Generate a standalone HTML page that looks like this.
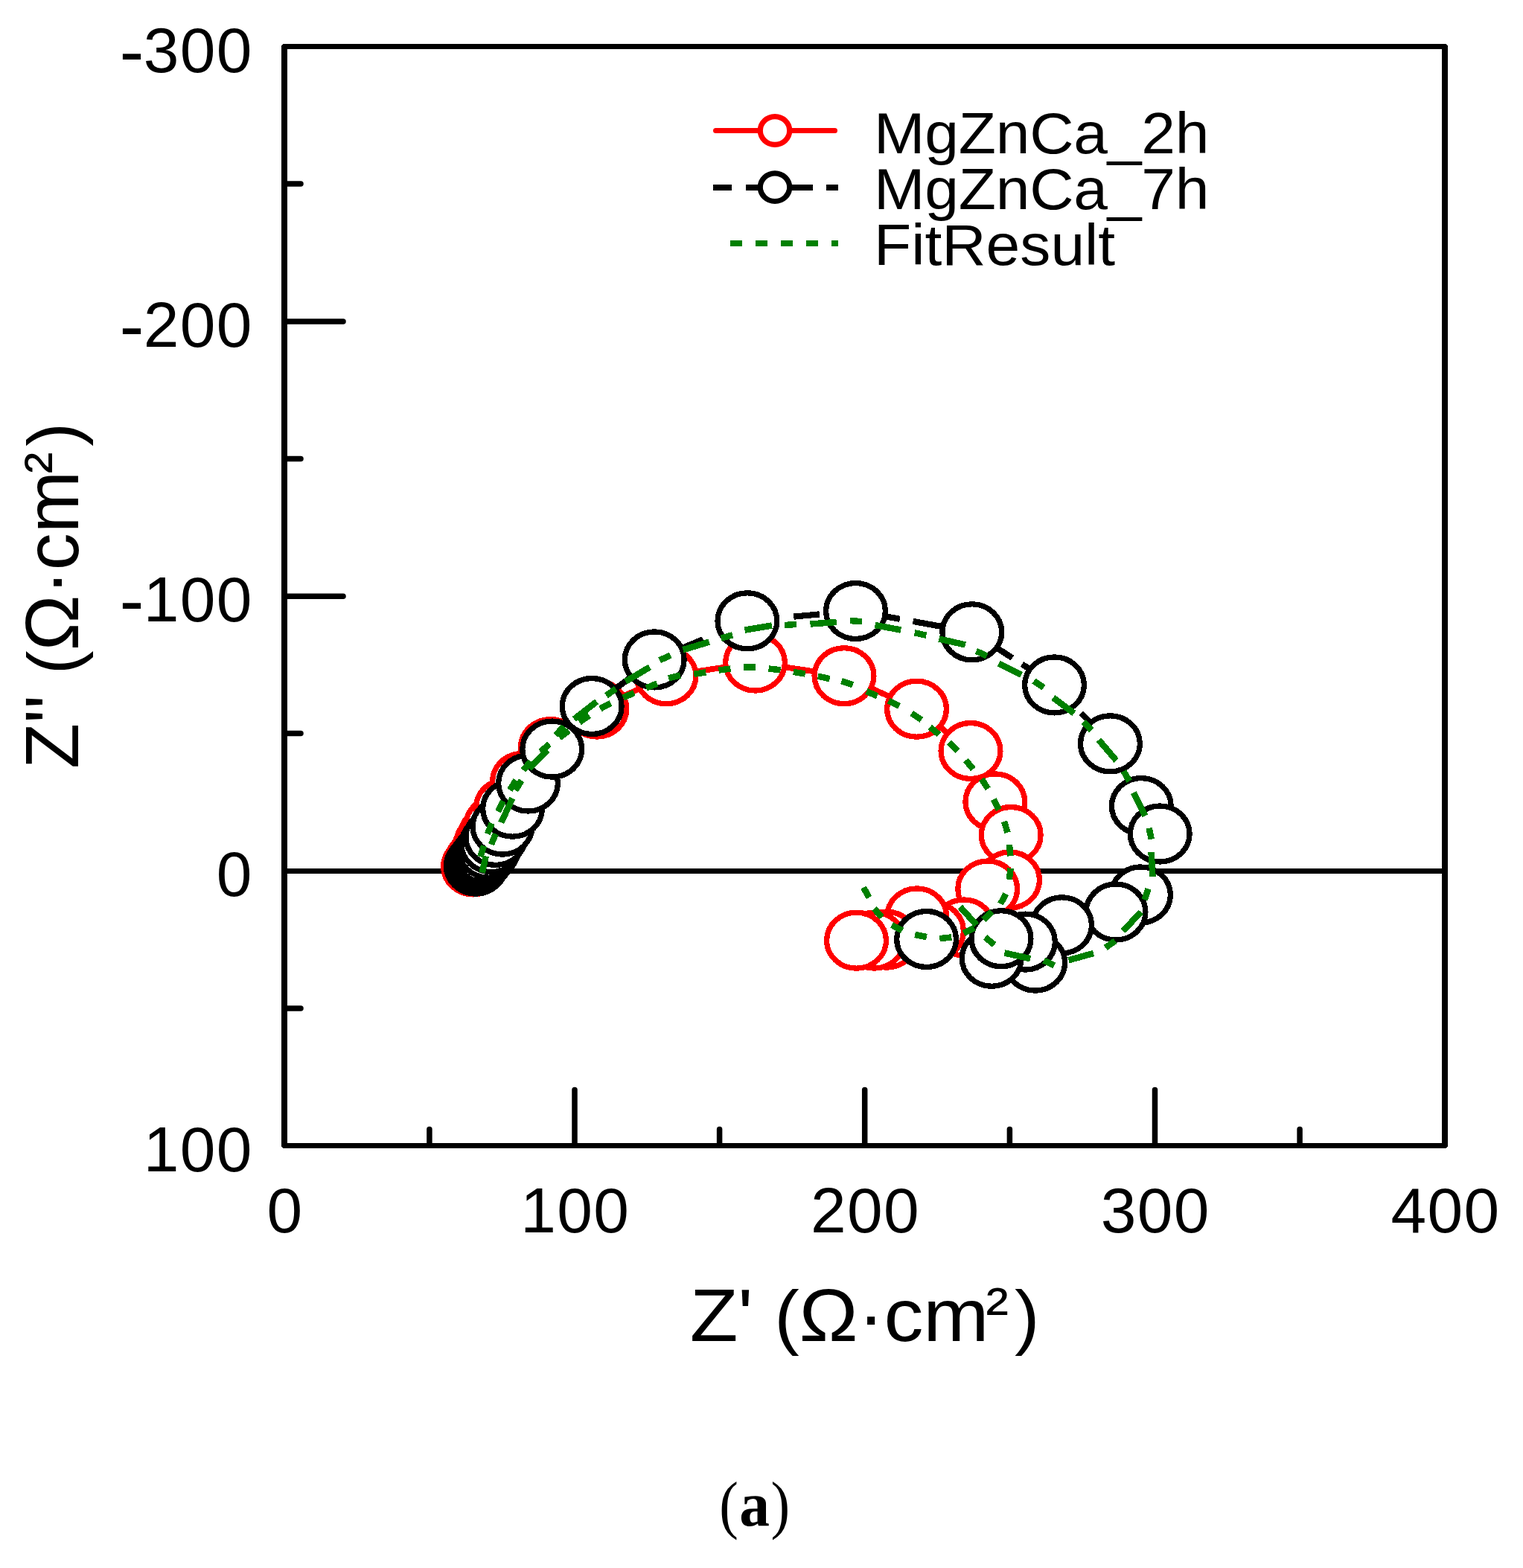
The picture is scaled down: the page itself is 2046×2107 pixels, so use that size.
<!DOCTYPE html>
<html lang="en"><head><meta charset="utf-8"><title>(a)</title>
<style>
html,body{margin:0;padding:0;background:#fff;}
body{width:2046px;height:2107px;overflow:hidden;}
svg{display:block;}
text{font-family:"Liberation Sans",sans-serif;fill:#000;stroke:#000;stroke-width:0;stroke-linejoin:round;}
.cap{font-family:"Liberation Serif",serif;stroke:none;}
</style></head><body>
<svg width="2046" height="2107" viewBox="0 0 2046 2107">
<rect x="0" y="0" width="2046" height="2107" fill="#fff"/>
<g id="axes" fill="#000" shape-rendering="crispEdges">
<rect x="382" y="1167" width="1559" height="7"/>
</g>
<g id="plot" shape-rendering="crispEdges">
<g id="series-2h" fill="none" stroke="#ff0000">
<path d="M635.5 1164.4L636.4 1163.0L637.6 1161.2L639.1 1158.9L641.0 1156.0L643.5 1152.3L646.8 1147.5L650.0 1140.5L653.0 1132.5L658.0 1123.0L666.0 1108.5L679.5 1085.0L701.5 1050.0L739.4 1004.1L801.9 952.5L895.0 908.3L1014.5 890.5L1134.0 908.2L1231.5 952.7L1304.0 1009.0L1336.8 1077.4L1358.2 1122.0L1356.6 1182.5L1326.7 1194.5L1295.0 1246.5L1254.5 1251.0L1231.7 1231.4L1191.0 1262.6L1174.5 1263.6L1150.5 1263.7" stroke-width="7.8" stroke-linejoin="round"/>
<ellipse cx="635.5" cy="1164.4" rx="39.9" ry="37.5" fill="#fff" stroke-width="7.3"/>
<ellipse cx="636.4" cy="1163.0" rx="39.9" ry="37.5" fill="#fff" stroke-width="7.3"/>
<ellipse cx="637.6" cy="1161.2" rx="39.9" ry="37.5" fill="#fff" stroke-width="7.3"/>
<ellipse cx="639.1" cy="1158.9" rx="39.9" ry="37.5" fill="#fff" stroke-width="7.3"/>
<ellipse cx="641.0" cy="1156.0" rx="39.9" ry="37.5" fill="#fff" stroke-width="7.3"/>
<ellipse cx="643.5" cy="1152.3" rx="39.9" ry="37.5" fill="#fff" stroke-width="7.3"/>
<ellipse cx="646.8" cy="1147.5" rx="39.9" ry="37.5" fill="#fff" stroke-width="7.3"/>
<ellipse cx="650.0" cy="1140.5" rx="39.9" ry="37.5" fill="#fff" stroke-width="7.3"/>
<ellipse cx="653.0" cy="1132.5" rx="39.9" ry="37.5" fill="#fff" stroke-width="7.3"/>
<ellipse cx="658.0" cy="1123.0" rx="39.9" ry="37.5" fill="#fff" stroke-width="7.3"/>
<ellipse cx="666.0" cy="1108.5" rx="39.9" ry="37.5" fill="#fff" stroke-width="7.3"/>
<ellipse cx="679.5" cy="1085.0" rx="39.9" ry="37.5" fill="#fff" stroke-width="7.3"/>
<ellipse cx="701.5" cy="1050.0" rx="39.9" ry="37.5" fill="#fff" stroke-width="7.3"/>
<ellipse cx="739.4" cy="1004.1" rx="39.9" ry="37.5" fill="#fff" stroke-width="7.3"/>
<ellipse cx="801.9" cy="952.5" rx="39.9" ry="37.5" fill="#fff" stroke-width="7.3"/>
<ellipse cx="895.0" cy="908.3" rx="39.9" ry="37.5" fill="#fff" stroke-width="7.3"/>
<ellipse cx="1014.5" cy="890.5" rx="39.9" ry="37.5" fill="#fff" stroke-width="7.3"/>
<ellipse cx="1134.0" cy="908.2" rx="39.9" ry="37.5" fill="#fff" stroke-width="7.3"/>
<ellipse cx="1231.5" cy="952.7" rx="39.9" ry="37.5" fill="#fff" stroke-width="7.3"/>
<ellipse cx="1304.0" cy="1009.0" rx="39.9" ry="37.5" fill="#fff" stroke-width="7.3"/>
<ellipse cx="1336.8" cy="1077.4" rx="39.9" ry="37.5" fill="#fff" stroke-width="7.3"/>
<ellipse cx="1358.2" cy="1122.0" rx="39.9" ry="37.5" fill="#fff" stroke-width="7.3"/>
<ellipse cx="1356.6" cy="1182.5" rx="39.9" ry="37.5" fill="#fff" stroke-width="7.3"/>
<ellipse cx="1326.7" cy="1194.5" rx="39.9" ry="37.5" fill="#fff" stroke-width="7.3"/>
<ellipse cx="1295.0" cy="1246.5" rx="39.9" ry="37.5" fill="#fff" stroke-width="7.3"/>
<ellipse cx="1254.5" cy="1251.0" rx="39.9" ry="37.5" fill="#fff" stroke-width="7.3"/>
<ellipse cx="1231.7" cy="1231.4" rx="39.9" ry="37.5" fill="#fff" stroke-width="7.3"/>
<ellipse cx="1191.0" cy="1262.6" rx="39.9" ry="37.5" fill="#fff" stroke-width="7.3"/>
<ellipse cx="1174.5" cy="1263.6" rx="39.9" ry="37.5" fill="#fff" stroke-width="7.3"/>
<ellipse cx="1150.5" cy="1263.7" rx="39.9" ry="37.5" fill="#fff" stroke-width="7.3"/>
</g>
<g id="series-7h" fill="none" stroke="#000">
<g stroke-width="8.2">
<line x1="815.0" y1="934.2" x2="850.0" y2="908.2"/>
<line x1="900.0" y1="877.7" x2="944.4" y2="859.2"/>
<line x1="1066.3" y1="828.6" x2="1100.8" y2="825.4"/>
<line x1="1175.0" y1="825.6" x2="1208.9" y2="831.8"/>
<line x1="1226.5" y1="834.9" x2="1275.0" y2="843.7"/>
<line x1="1330.0" y1="864.8" x2="1360.0" y2="884.1"/>
<line x1="1373.0" y1="892.5" x2="1400.0" y2="909.8"/>
<line x1="1452.3" y1="958.1" x2="1475.0" y2="982.0"/>
</g>
<ellipse cx="639.3" cy="1163.6" rx="39.9" ry="37.5" fill="#fff" stroke-width="7.3"/>
<ellipse cx="640.3" cy="1162.3" rx="39.9" ry="37.5" fill="#fff" stroke-width="7.3"/>
<ellipse cx="641.6" cy="1160.6" rx="39.9" ry="37.5" fill="#fff" stroke-width="7.3"/>
<ellipse cx="643.2" cy="1158.5" rx="39.9" ry="37.5" fill="#fff" stroke-width="7.3"/>
<ellipse cx="645.3" cy="1155.8" rx="39.9" ry="37.5" fill="#fff" stroke-width="7.3"/>
<ellipse cx="648.0" cy="1152.3" rx="39.9" ry="37.5" fill="#fff" stroke-width="7.3"/>
<ellipse cx="651.5" cy="1147.7" rx="39.9" ry="37.5" fill="#fff" stroke-width="7.3"/>
<ellipse cx="656.1" cy="1141.7" rx="39.9" ry="37.5" fill="#fff" stroke-width="7.3"/>
<ellipse cx="659.9" cy="1134.2" rx="39.9" ry="37.5" fill="#fff" stroke-width="7.3"/>
<ellipse cx="665.8" cy="1124.9" rx="39.9" ry="37.5" fill="#fff" stroke-width="7.3"/>
<ellipse cx="675.0" cy="1110.6" rx="39.9" ry="37.5" fill="#fff" stroke-width="7.3"/>
<ellipse cx="688.5" cy="1086.7" rx="39.9" ry="37.5" fill="#fff" stroke-width="7.3"/>
<ellipse cx="709.5" cy="1052.5" rx="39.9" ry="37.5" fill="#fff" stroke-width="7.3"/>
<ellipse cx="741.7" cy="1006.6" rx="39.9" ry="37.5" fill="#fff" stroke-width="7.3"/>
<ellipse cx="795.2" cy="949.0" rx="39.9" ry="37.5" fill="#fff" stroke-width="7.3"/>
<ellipse cx="879.2" cy="886.4" rx="39.9" ry="37.5" fill="#fff" stroke-width="7.3"/>
<ellipse cx="1003.9" cy="834.3" rx="39.9" ry="37.5" fill="#fff" stroke-width="7.3"/>
<ellipse cx="1149.5" cy="821.0" rx="39.9" ry="37.5" fill="#fff" stroke-width="7.3"/>
<ellipse cx="1305.8" cy="849.3" rx="39.9" ry="37.5" fill="#fff" stroke-width="7.3"/>
<ellipse cx="1416.5" cy="920.4" rx="39.9" ry="37.5" fill="#fff" stroke-width="7.3"/>
<ellipse cx="1491.4" cy="999.3" rx="39.9" ry="37.5" fill="#fff" stroke-width="7.3"/>
<ellipse cx="1533.3" cy="1083.1" rx="39.9" ry="37.5" fill="#fff" stroke-width="7.3"/>
<ellipse cx="1558.2" cy="1120.5" rx="39.9" ry="37.5" fill="#fff" stroke-width="7.3"/>
<ellipse cx="1532.5" cy="1202.5" rx="39.9" ry="37.5" fill="#fff" stroke-width="7.3"/>
<ellipse cx="1499.0" cy="1225.5" rx="39.9" ry="37.5" fill="#fff" stroke-width="7.3"/>
<ellipse cx="1426.6" cy="1243.3" rx="39.9" ry="37.5" fill="#fff" stroke-width="7.3"/>
<ellipse cx="1390.7" cy="1293.6" rx="39.9" ry="37.5" fill="#fff" stroke-width="7.3"/>
<ellipse cx="1377.4" cy="1265.6" rx="39.9" ry="37.5" fill="#fff" stroke-width="7.3"/>
<ellipse cx="1332.2" cy="1287.8" rx="39.9" ry="37.5" fill="#fff" stroke-width="7.3"/>
<ellipse cx="1345.0" cy="1261.2" rx="39.9" ry="37.5" fill="#fff" stroke-width="7.3"/>
<ellipse cx="1244.6" cy="1262.0" rx="39.9" ry="37.5" fill="#fff" stroke-width="7.3"/>
</g>
<g id="fit" fill="none" stroke="#008000" stroke-width="8.5">
<line x1="645.3" y1="1151.2" x2="650.1" y2="1136.6"/>
<line x1="654.9" y1="1120.5" x2="660.7" y2="1106.3"/>
<line x1="668.9" y1="1090.3" x2="676.1" y2="1076.7"/>
<line x1="684.8" y1="1061.5" x2="693.2" y2="1048.5"/>
<line x1="702.9" y1="1034.9" x2="713.1" y2="1023.1"/>
<line x1="726.0" y1="1010.1" x2="738.0" y2="999.9"/>
<line x1="751.5" y1="991.2" x2="764.3" y2="981.8"/>
<line x1="778.4" y1="970.5" x2="791.6" y2="961.5"/>
<line x1="806.4" y1="952.4" x2="820.4" y2="944.8"/>
<line x1="837.3" y1="937.4" x2="851.9" y2="931.0"/>
<line x1="868.1" y1="924.5" x2="882.9" y2="918.5"/>
<line x1="898.2" y1="911.4" x2="913.8" y2="907.4"/>
<line x1="932.2" y1="905.8" x2="948.2" y2="903.4"/>
<line x1="965.4" y1="900.6" x2="981.4" y2="898.6"/>
<line x1="998.9" y1="896.4" x2="1015.1" y2="896.4"/>
<line x1="1032.6" y1="898.5" x2="1048.6" y2="900.3"/>
<line x1="1065.8" y1="902.9" x2="1081.8" y2="905.5"/>
<line x1="1098.8" y1="908.7" x2="1114.6" y2="912.1"/>
<line x1="1130.4" y1="915.1" x2="1145.6" y2="920.3"/>
<line x1="1164.0" y1="928.9" x2="1178.6" y2="935.3"/>
<line x1="1193.9" y1="941.6" x2="1208.1" y2="948.8"/>
<line x1="1224.6" y1="958.4" x2="1237.8" y2="967.2"/>
<line x1="1249.3" y1="977.0" x2="1261.5" y2="987.0"/>
<line x1="1275.2" y1="997.7" x2="1286.4" y2="1008.7"/>
<line x1="1297.4" y1="1021.6" x2="1307.4" y2="1033.6"/>
<line x1="1318.7" y1="1046.9" x2="1327.3" y2="1059.9"/>
<line x1="1334.8" y1="1074.3" x2="1341.6" y2="1088.1"/>
<line x1="1349.1" y1="1103.9" x2="1353.5" y2="1118.7"/>
<line x1="1356.0" y1="1135.1" x2="1357.4" y2="1150.3"/>
<line x1="1357.7" y1="1166.7" x2="1355.7" y2="1181.9"/>
<line x1="1351.3" y1="1201.0" x2="1344.1" y2="1214.6"/>
<line x1="1332.8" y1="1225.2" x2="1321.2" y2="1235.8"/>
<line x1="1308.6" y1="1246.7" x2="1294.4" y2="1254.1"/>
<line x1="1278.3" y1="1259.4" x2="1262.3" y2="1261.2"/>
<line x1="1244.9" y1="1259.1" x2="1229.1" y2="1255.9"/>
<line x1="1212.0" y1="1250.5" x2="1198.0" y2="1242.9"/>
<line x1="1184.6" y1="1232.7" x2="1174.4" y2="1220.9"/>
<line x1="1167.6" y1="1206.0" x2="1160.0" y2="1192.6"/>
<line x1="647.7" y1="1172.7" x2="652.7" y2="1150.4"/>
<line x1="659.9" y1="1134.8" x2="665.9" y2="1120.6"/>
<line x1="673.3" y1="1105.4" x2="688.5" y2="1072.6"/>
<line x1="692.4" y1="1062.0" x2="700.6" y2="1048.8"/>
<line x1="711.0" y1="1033.0" x2="735.0" y2="1008.0"/>
<line x1="746.6" y1="987.7" x2="757.4" y2="976.3"/>
<line x1="771.3" y1="966.3" x2="801.6" y2="942.8"/>
<line x1="814.4" y1="934.6" x2="827.4" y2="925.6"/>
<line x1="840.3" y1="915.8" x2="872.8" y2="896.5"/>
<line x1="886.1" y1="887.4" x2="900.5" y2="880.4"/>
<line x1="917.5" y1="873.2" x2="952.8" y2="862.6"/>
<line x1="968.7" y1="857.7" x2="984.1" y2="853.3"/>
<line x1="1000.5" y1="846.6" x2="1036.9" y2="840.5"/>
<line x1="1054.0" y1="840.1" x2="1070.0" y2="838.9"/>
<line x1="1088.5" y1="838.5" x2="1123.7" y2="836.0"/>
<line x1="1142.0" y1="834.0" x2="1158.0" y2="835.2"/>
<line x1="1175.5" y1="840.0" x2="1210.2" y2="846.5"/>
<line x1="1228.6" y1="850.3" x2="1244.4" y2="853.7"/>
<line x1="1261.4" y1="858.5" x2="1296.9" y2="866.4"/>
<line x1="1311.4" y1="874.8" x2="1325.8" y2="881.6"/>
<line x1="1341.6" y1="891.4" x2="1372.0" y2="906.7"/>
<line x1="1388.9" y1="915.0" x2="1402.1" y2="924.0"/>
<line x1="1414.8" y1="937.5" x2="1442.9" y2="958.5"/>
<line x1="1455.4" y1="970.2" x2="1466.4" y2="981.4"/>
<line x1="1476.0" y1="994.2" x2="1499.6" y2="1021.9"/>
<line x1="1509.4" y1="1036.2" x2="1517.2" y2="1049.6"/>
<line x1="1522.7" y1="1065.0" x2="1538.5" y2="1096.5"/>
<line x1="1543.6" y1="1112.8" x2="1546.8" y2="1127.8"/>
<line x1="1546.5" y1="1144.8" x2="1548.5" y2="1178.0"/>
<line x1="1542.6" y1="1194.5" x2="1537.6" y2="1209.1"/>
<line x1="1532.6" y1="1225.5" x2="1508.9" y2="1251.0"/>
<line x1="1498.1" y1="1264.4" x2="1485.1" y2="1273.4"/>
<line x1="1469.0" y1="1281.0" x2="1435.5" y2="1290.3"/>
<line x1="1416.5" y1="1297.4" x2="1402.1" y2="1290.6"/>
<line x1="1384.2" y1="1288.2" x2="1349.5" y2="1280.5"/>
<line x1="1335.7" y1="1269.5" x2="1323.5" y2="1259.5"/>
<line x1="1311.9" y1="1243.0" x2="1289.9" y2="1218.7"/>
</g>
</g>
<g id="frame" fill="#000" shape-rendering="crispEdges">
<rect x="378" y="59" width="1567" height="7"/>
<rect x="378" y="1536" width="1567" height="7"/>
<rect x="378" y="59" width="8" height="1484"/>
<rect x="1937" y="59" width="8" height="1484"/>
<path d="M378 59h2.4l-2.4 2.4zM1945 59v2.4l-2.4-2.4zM378 1543v-2.4l2.4 2.4zM1945 1543h-2.4l2.4-2.4z" fill="#fff"/>
</g>
<g id="ticks" stroke="#000" stroke-width="7.5" stroke-linecap="round" fill="none">
<line x1="384" y1="432.1" x2="461" y2="432.1"/>
<line x1="384" y1="801.3" x2="461" y2="801.3"/>
<line x1="384" y1="247.1" x2="404" y2="247.1"/>
<line x1="384" y1="616.4" x2="404" y2="616.4"/>
<line x1="384" y1="985.6" x2="404" y2="985.6"/>
<line x1="384" y1="1354.9" x2="404" y2="1354.9"/>
<line x1="772.0" y1="1539" x2="772.0" y2="1464.5"/>
<line x1="1161.7" y1="1539" x2="1161.7" y2="1464.5"/>
<line x1="1551.5" y1="1539" x2="1551.5" y2="1464.5"/>
<line x1="576.9" y1="1539" x2="576.9" y2="1517.5"/>
<line x1="966.6" y1="1539" x2="966.6" y2="1517.5"/>
<line x1="1356.4" y1="1539" x2="1356.4" y2="1517.5"/>
<line x1="1746.1" y1="1539" x2="1746.1" y2="1517.5"/>
</g>
<g id="ylabels" font-size="85.7" text-anchor="end" letter-spacing="1.30" stroke-width="0.40">
<text x="339.6" y="96.8"><tspan font-size="99.0" dy="4.8" dx="0.0">-</tspan><tspan dy="-4.8" dx="-2.0">300</tspan></text>
<text x="339.6" y="465.9"><tspan font-size="99.0" dy="4.8" dx="0.0">-</tspan><tspan dy="-4.8" dx="-2.0">200</tspan></text>
<text x="339.6" y="834.9"><tspan font-size="99.0" dy="4.8" dx="0.0">-</tspan><tspan dy="-4.8" dx="-2.0">100</tspan></text>
<text x="339.6" y="1203.7">0</text>
<text x="339.6" y="1573.7">100</text>
</g>
<g id="xlabels" font-size="85.7" text-anchor="middle" letter-spacing="1.30" stroke-width="0.40">
<text x="383.0" y="1656.2">0</text>
<text x="772.8" y="1656.2">100</text>
<text x="1162.5" y="1656.2">200</text>
<text x="1552.2" y="1656.2">300</text>
<text x="1942.0" y="1656.2">400</text>
</g>
<text id="xtitle" transform="translate(1161.6 1801.6) scale(1.051 1)" font-size="100.8" letter-spacing="-0.28" text-anchor="middle">Z' <tspan font-size="95.8">(</tspan>Ω·cm<tspan font-size="87.7" dy="-10.5" dx="-3.6">²</tspan><tspan font-size="95.8" dy="10.5" dx="8.0">)</tspan></text>
<text id="ytitle" transform="translate(105.0 800.5) rotate(-90) scale(0.992 1.011)" font-size="100.8" text-anchor="middle">Z'' <tspan font-size="95.8">(</tspan>Ω·cm<tspan font-size="87.7" dy="-10.5" dx="-3.6">²</tspan><tspan font-size="95.8" dy="10.5" dx="8.0">)</tspan></text>
<g id="legend">
<g shape-rendering="crispEdges">
<line x1="961.5" y1="175.5" x2="1121.5" y2="175.5" stroke="#ff0000" stroke-width="7" stroke-linecap="round" shape-rendering="auto"/>
<rect x="958" y="248" width="25" height="8" fill="#000"/>
<rect x="1002" y="248" width="28" height="8" fill="#000"/>
<rect x="1055" y="248" width="37" height="8" fill="#000"/>
<rect x="1110" y="248" width="16" height="8" fill="#000"/>
<rect x="981" y="323" width="16" height="8" fill="#008000"/>
<rect x="1015" y="323" width="16" height="8" fill="#008000"/>
<rect x="1049" y="323" width="16" height="8" fill="#008000"/>
<rect x="1083" y="323" width="16" height="8" fill="#008000"/>
<rect x="1117" y="323" width="9" height="8" fill="#008000"/>
</g>
<ellipse cx="1041" cy="175.5" rx="19.7" ry="18.8" fill="#fff" stroke="#ff0000" stroke-width="7.2"/>
<ellipse cx="1041" cy="251.7" rx="19.7" ry="18.8" fill="#fff" stroke="#000" stroke-width="7.2"/>
<g font-size="77.6" letter-spacing="-0.20">
<text transform="translate(1174.0 206.1) scale(1.059 1)">MgZnCa_2h</text>
<text transform="translate(1174.0 281.4) scale(1.059 1)">MgZnCa_7h</text>
<text transform="translate(1174.0 356.4) scale(1.059 1)" letter-spacing="0.00">FitResult</text>
</g>
</g>
<g id="caption" class="cap"><text class="cap" transform="translate(966.2 2051.0) scale(0.890 1)" font-size="86.4">(</text><text class="cap" transform="translate(993.3 2050.0) scale(0.962 1)" font-size="84.7" font-weight="bold">a</text><text class="cap" transform="translate(1035.6 2051.0) scale(0.890 1)" font-size="86.4">)</text></g>
</svg>
</body></html>
